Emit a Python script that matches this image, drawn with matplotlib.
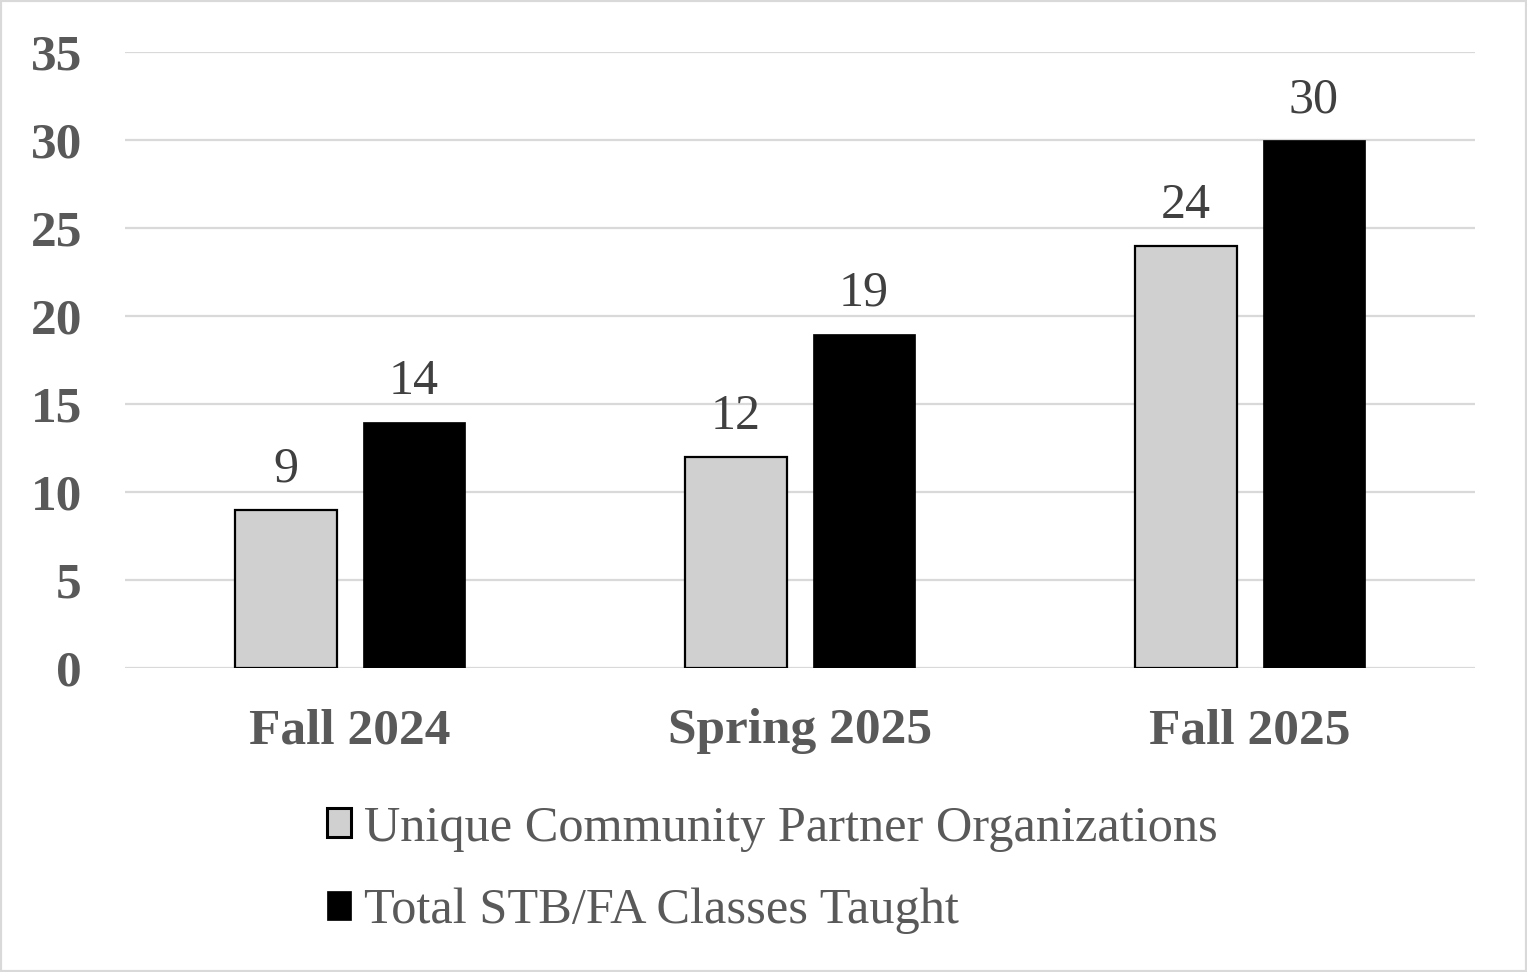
import numpy as np
import matplotlib
matplotlib.use("Agg")
import matplotlib.pyplot as plt
from matplotlib.patches import Rectangle

# ── Data ───────────────────────────────────────────────────────────────────────

terms     = ["Fall 2024", "Spring 2025", "Fall 2025"]
partners  = [9, 12, 24]
classes   = [14, 19, 30]
labels    = ["Unique Community Partner Organizations", "Total STB/FA Classes Taught"]
y_ticks   = [0, 5, 10, 15, 20, 25, 30, 35]

TXT  = "#595959"
GRID = "#d9d9d9"
plt.rcParams["font.family"] = ["Liberation Serif", "DejaVu Serif"]

# ── Figure ─────────────────────────────────────────────────────────────────────

W, H, DPI = 1527, 972, 100
fig = plt.figure(figsize=(W / DPI, H / DPI), dpi=DPI)
ax = fig.add_axes([125 / W, 1 - 668 / H, 1350 / W, 616 / H])

x = np.arange(len(terms))
bw, off = 0.227, 0.142
b1 = ax.bar(x - off, partners, bw, color="#d0d0d0", edgecolor="black", linewidth=1.6,
            label=labels[0], zorder=3)
b2 = ax.bar(x + off, classes, bw, color="black", edgecolor="black", linewidth=0.5,
            label=labels[1], zorder=3)

for bars in (b1, b2):
    ax.bar_label(bars, padding=12, fontsize=36, color="#404040")

ax.set_xlim(-0.5, 2.5)
ax.set_ylim(0, 35)
ax.set_yticks(y_ticks)
ax.set_xticks(x)
ax.set_xticklabels(terms)
ax.tick_params(axis="both", length=0, labelsize=37, labelcolor=TXT)
ax.tick_params(axis="y", pad=31)
ax.tick_params(axis="x", pad=29)
for lab in ax.get_xticklabels() + ax.get_yticklabels():
    lab.set_fontweight("bold")

ax.grid(axis="y", color=GRID, linewidth=1.6, zorder=0)
for s in ax.spines.values():
    s.set_visible(False)

leg = fig.legend(handles=[b1, b2], labels=labels, loc="upper left",
                 bbox_to_anchor=(327 / W, 1 - 805 / H), frameon=False,
                 fontsize=36.3, labelcolor=TXT, handlelength=0.48, handleheight=0.52,
                 handletextpad=0.26, labelspacing=0.72, borderpad=0, borderaxespad=0)
leg.legend_handles[0].set_linewidth(2.2)

# light border round the whole picture
fig.patches.append(Rectangle((0, 0), 1, 1, transform=fig.transFigure, fill=False,
                             edgecolor=GRID, linewidth=3))

fig.savefig("out.png", dpi=DPI)
